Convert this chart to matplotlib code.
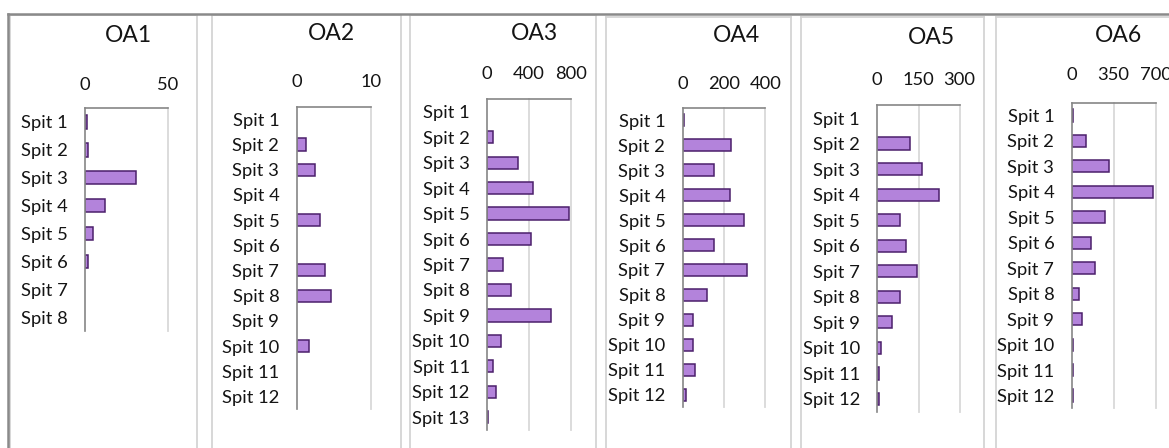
import matplotlib
matplotlib.use("Agg")
import matplotlib.pyplot as plt
from matplotlib.lines import Line2D

# ---- data -------------------------------------------------------------
spits = ["Spit 1", "Spit 2", "Spit 3", "Spit 4", "Spit 5", "Spit 6", "Spit 7",
         "Spit 8", "Spit 9", "Spit 10", "Spit 11", "Spit 12", "Spit 13"]

panel_titles = ["OA1", "OA2", "OA3", "OA4", "OA5", "OA6"]

oa1 = [1, 2, 31, 12, 5, 2, 0, 0]
oa2 = [0, 1.3, 2.5, 0, 3.1, 0, 3.8, 4.7, 0, 1.7, 0, 0]
oa3 = [0, 55, 300, 440, 785, 425, 150, 230, 615, 138, 55, 84, 10]
oa4 = [8, 235, 153, 229, 297, 153, 311, 118, 50, 50, 58, 14]
oa5 = [0, 120, 162, 225, 84, 105, 146, 84, 52, 12, 5, 5]
oa6 = [10, 122, 311, 678, 278, 158, 194, 64, 86, 8, 8, 8]

oa1_ticks = [0, 50]
oa2_ticks = [0, 10]
oa3_ticks = [0, 400, 800]
oa4_ticks = [0, 200, 400]
oa5_ticks = [0, 150, 300]
oa6_ticks = [0, 350, 700]

series = [oa1, oa2, oa3, oa4, oa5, oa6]
tick_sets = [oa1_ticks, oa2_ticks, oa3_ticks, oa4_ticks, oa5_ticks, oa6_ticks]

# ---- layout (pixels, origin top-left) ------------------------------------
W, H, DPI = 1169, 448, 100
# plot area: left, right, top, bottom
plot_boxes = [
    (85.0, 168.0, 108.0, 331.0),
    (296.7, 370.7, 106.7, 409.0),
    (487.0, 570.7, 99.0, 430.0),
    (682.7, 765.3, 107.7, 407.3),
    (877.3, 959.7, 105.3, 411.7),
    (1071.7, 1155.7, 102.7, 408.3),
]
# chart frames: left, right, top
frames = [
    (9.5, 197.0, 15.0),
    (211.5, 401.0, 15.0),
    (410.0, 596.0, 15.0),
    (606.0, 791.0, 17.0),
    (801.0, 984.0, 17.0),
    (996.0, 1185.0, 17.0),
]
# title centres
title_pos = [(128, 35), (331, 33), (534, 33), (736, 36), (931, 38), (1119, 36)]
# gap between axis line and tick labels (points)
tick_pads = [10.5, 12.0, 12.0, 11.5, 12.5, 14.5]

FONT = ["Lato", "DejaVu Sans"]
TEXT = "#141414"
BAR_FACE = "#b383db"
BAR_EDGE = "#4b1f6b"
AXIS = "#868686"
GRID = "#d9d9d9"

plt.rcParams["font.family"] = FONT

fig = plt.figure(figsize=(W / DPI, H / DPI), dpi=DPI)
fig.patch.set_facecolor("white")


def fx(x):
    return x / W


def fy(y):
    return 1 - y / H


# chart frames
for (l, r, t) in frames:
    for xs, ys in (([l, l], [t, H]), ([r, r], [t, H]), ([l, r], [t, t])):
        fig.add_artist(Line2D([fx(v) for v in xs], [fy(v) for v in ys],
                              color="#d4d4d4", lw=1.3,
                              transform=fig.transFigure))

# outer border (top and left)
fig.add_artist(Line2D([fx(8), 1], [fy(14), fy(14)], color="#8a8a8a", lw=1.8,
                      transform=fig.transFigure))
fig.add_artist(Line2D([fx(8), fx(8)], [fy(14), 0], color="#8a8a8a", lw=1.8,
                      transform=fig.transFigure))

for i, (vals, ticks) in enumerate(zip(series, tick_sets)):
    l, r, t, b = plot_boxes[i]
    ax = fig.add_axes([fx(l), fy(b), fx(r) - fx(l), fy(t) - fy(b)])
    n = len(vals)
    cats = spits[:n]
    bars = ax.barh(range(n), vals, height=0.48, color=BAR_FACE,
                   edgecolor=BAR_EDGE, linewidth=1.1, zorder=3)
    for p, v in zip(bars.patches, vals):
        if v == 0:
            p.set_visible(False)
    ax.set_xlim(ticks[0], ticks[-1])
    ax.set_ylim(n - 0.5, -0.5)
    ax.set_yticks(range(n))
    ax.set_yticklabels(cats)
    ax.set_xticks(ticks)
    ax.set_xticklabels([str(v) for v in ticks])
    ax.xaxis.tick_top()
    ax.tick_params(axis="x", length=0, pad=tick_pads[i], labelsize=13.2,
                   labelcolor=TEXT)
    ax.tick_params(axis="y", length=0, pad=12.5, labelsize=13.2,
                   labelcolor=TEXT)
    for s in ("right", "bottom"):
        ax.spines[s].set_visible(False)
    for s in ("top", "left"):
        ax.spines[s].set_color(AXIS)
        ax.spines[s].set_linewidth(1.2)
        ax.spines[s].set_zorder(4)
    for tv in ticks[1:]:
        ax.axvline(tv, color=GRID, lw=1.3, zorder=1, clip_on=False)
    ax.set_facecolor("none")
    tx, ty = title_pos[i]
    fig.text(fx(tx), fy(ty), panel_titles[i], ha="center", va="center",
             fontsize=16.5, color=TEXT)

fig.savefig("out.png", dpi=DPI, facecolor="white")
